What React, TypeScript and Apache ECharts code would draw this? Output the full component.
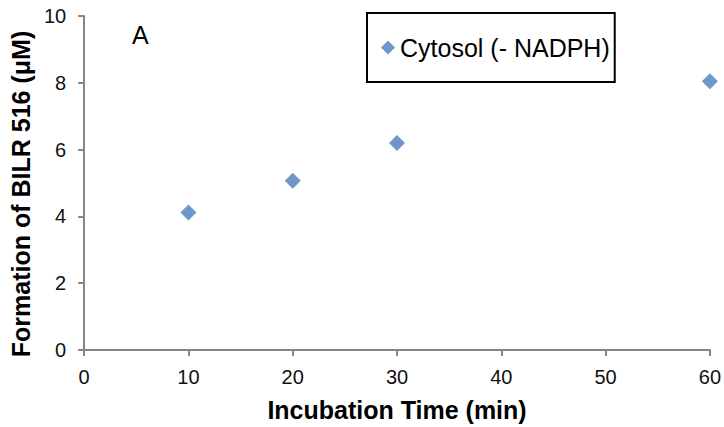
import React, { useEffect, useRef } from "react";
import * as echarts from "echarts";

const seriesName = "Cytosol (- NADPH)";
const times = [10, 20, 30, 60];
const formation = [4.12, 5.07, 6.2, 8.05];
const xTitle = "Incubation Time (min)";
const yTitle = "Formation of BILR 516 (μM)";
const panelLabel = "A";

export default function App() {
  const ref = useRef<HTMLDivElement>(null);
  useEffect(() => {
    if (!ref.current) return;
    const chart = echarts.init(ref.current, null, { renderer: "svg" });
    const font = "Arial, 'Liberation Sans', sans-serif";
    chart.setOption({
      animation: false,
      backgroundColor: "#ffffff",
      grid: { left: 83, right: 14, top: 16, bottom: 74, containLabel: false },
      legend: {
        left: 367,
        top: 13,
        orient: "vertical",
        borderColor: "#000",
        borderWidth: 2,
        padding: [22, 5, 22, 14],
        itemWidth: 14,
        itemHeight: 14,
        icon: "diamond",
        textStyle: { fontFamily: font, fontSize: 25, color: "#000" },
        data: [seriesName],
      },
      xAxis: {
        type: "value",
        min: 0,
        max: 60,
        interval: 10,
        name: xTitle,
        nameLocation: "middle",
        nameGap: 47,
        nameTextStyle: { fontFamily: font, fontSize: 25, fontWeight: "bold", color: "#000" },
        axisLine: { show: true, lineStyle: { color: "#868686", width: 2 } },
        axisTick: { show: true, length: 6, lineStyle: { color: "#868686", width: 2 } },
        axisLabel: { fontFamily: font, fontSize: 20, color: "#111", margin: 17 },
        splitLine: { show: false },
      },
      yAxis: {
        type: "value",
        min: 0,
        max: 10,
        interval: 2,
        name: yTitle,
        nameLocation: "middle",
        nameRotate: 90,
        nameGap: 51,
        nameTextStyle: {
          fontFamily: font,
          fontSize: 25,
          fontWeight: "bold",
          color: "#000",
          padding: [0, 22, 0, 0],
        },
        axisLine: { show: true, lineStyle: { color: "#868686", width: 2 } },
        axisTick: { show: true, length: 6, lineStyle: { color: "#868686", width: 2 } },
        axisLabel: { fontFamily: font, fontSize: 20, color: "#111", margin: 18 },
        splitLine: { show: false },
      },
      graphic: [
        {
          type: "text",
          left: 132,
          top: 22,
          style: { text: panelLabel, font: `25px ${font}`, fill: "#000" },
        },
      ],
      series: [
        {
          name: seriesName,
          type: "scatter",
          symbol: "diamond",
          symbolSize: 16,
          itemStyle: { color: "#4A7EBB" },
          data: times.map((t, i) => [t, formation[i]]),
        },
      ],
    });
    return () => chart.dispose();
  }, []);
  return <div ref={ref} style={{ width: 724, height: 427, position: "absolute", left: 0, top: 0 }} />;
}
